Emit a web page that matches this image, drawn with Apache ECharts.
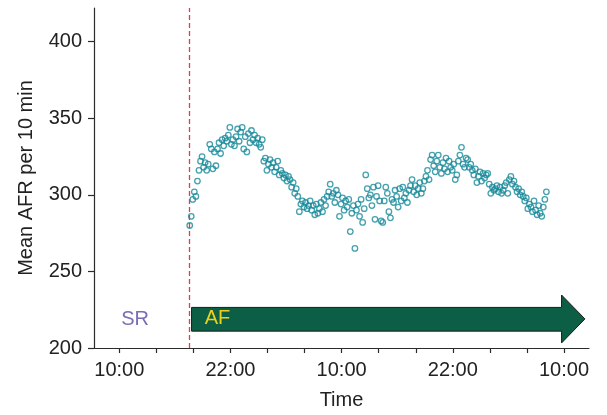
<!DOCTYPE html>
<html>
<head>
<meta charset="utf-8">
<script src="https://cdn.jsdelivr.net/npm/echarts@6/dist/echarts.min.js"></script>
<style>html,body{margin:0;padding:0;background:#fff}#c{width:607px;height:415px}</style>
</head>
<body>
<div id="c"></div>
<script>
// ---- data ----
// 10-minute mean AFR values, starting at hour 17.6 (hours counted from midnight of day 1)
const startHour = 17.6;
const stepHours = 10 / 60;
const afrValues = [
  280, 286, 297, 302, 299, 309,
  316, 322, 325, 318, 321, 316,
  320, 333, 330, 317, 328, 319,
  330, 334, 327, 336, 332, 337,
  335, 339, 344, 333, 336, 332,
  338, 343, 335, 341, 344, 330,
  338, 328, 340, 334, 342, 336,
  339, 334, 337, 333, 331, 336,
  322, 324, 316, 320, 323, 318,
  321, 315, 318, 322, 313, 316,
  314, 311, 313, 309, 312, 310,
  305, 308, 301, 304, 299, 289,
  294, 296, 292, 295, 291, 293,
  296, 290, 293, 287, 294, 288,
  291, 295, 289, 297, 293, 299,
  302, 307, 299, 301, 295, 303,
  300, 286, 294, 298, 290, 296,
  292, 297, 276, 288, 293, 265,
  290, 294, 286, 297, 282, 291,
  313, 304, 298, 300, 293, 305,
  284, 299, 306, 296, 283, 282,
  296, 305, 301, 289, 285, 297,
  295, 303, 299, 292, 304, 296,
  305, 298, 301, 295, 303, 306,
  310, 302, 306, 300, 304, 308,
  301, 304, 309, 312, 316, 310,
  323, 326, 319, 315, 322, 326,
  318, 314, 321, 317, 324, 315,
  322, 318, 316, 320, 310, 313,
  322, 326, 331, 320, 318, 324,
  323, 318, 320, 316, 313, 317,
  308, 312, 315, 309, 314, 311,
  313, 314, 307, 301, 305, 303,
  304, 306, 302, 305, 301, 303,
  306, 308, 301, 310, 312, 307,
  309, 305, 302, 304, 300, 302,
  299, 296, 298, 291, 294, 292,
  289, 296, 290, 287, 293, 288,
  286, 292, 297, 302
];
const xTickHours = [10, 14, 18, 22, 26, 30, 34, 38, 42, 46, 50, 54, 58];
const xLabelHours = [10, 22, 34, 46, 58];
const yTicks = [200, 250, 300, 350, 400];
const onsetHour = 17.55;          // SR -> AF transition (dashed line)
const afArrow = { start: 17.8, headStart: 57.74, tip: 60.26, low: 211, high: 226.5, headLow: 203.3, headHigh: 234.6, mid: 219 };
const rhythmLabels = [
  { text: 'SR', hour: 11.7, value: 218.5 },
  { text: 'AF', hour: 20.6, value: 219 }
];

// ---- chart ----
const points = afrValues.map((v, i) => [startHour + i * stepHours, v]);
const font = 'Liberation Sans, Arial, Helvetica, sans-serif';
const axisColor = '#2b2b2b';

const chart = echarts.init(document.getElementById('c'), null, { renderer: 'canvas' });
chart.setOption({
  animation: false,
  grid: { left: 94, right: 18, top: 8, bottom: 60.5, containLabel: false },
  xAxis: {
    type: 'value', min: 7.27, max: 60.7,
    name: 'Time', nameLocation: 'middle', nameGap: 42,
    nameTextStyle: { fontFamily: font, fontSize: 20, color: '#222' },
    axisLine: { show: true, lineStyle: { color: axisColor, width: 1.2 } },
    axisTick: { show: true, length: 5, lineStyle: { color: axisColor, width: 1.2 }, customValues: xTickHours },
    axisLabel: {
      customValues: xLabelHours, margin: 12, fontFamily: font, fontSize: 20, color: '#222',
      formatter: v => String(Math.round(v) % 24).padStart(2, '0') + ':00'
    },
    splitLine: { show: false }
  },
  yAxis: {
    type: 'value', min: 200, max: 422,
    name: 'Mean AFR per 10 min', nameLocation: 'middle', nameGap: 58,
    nameTextStyle: { fontFamily: font, fontSize: 20, color: '#222' },
    axisLine: { show: true, lineStyle: { color: axisColor, width: 1.2 } },
    axisTick: { show: true, length: 6, lineStyle: { color: axisColor, width: 1.2 }, customValues: yTicks },
    axisLabel: { customValues: yTicks, margin: 12, fontFamily: font, fontSize: 20, color: '#222' },
    splitLine: { show: false }
  },
  series: [
    {
      type: 'custom',
      z: 1,
      data: [[afArrow.start, afArrow.low]],
      renderItem: (params, api) => {
        const a = afArrow;
        const pts = [
          [a.start, a.low], [a.headStart, a.low], [a.headStart, a.headLow], [a.tip, a.mid],
          [a.headStart, a.headHigh], [a.headStart, a.high], [a.start, a.high]
        ].map(p => api.coord(p));
        return {
          type: 'polygon',
          shape: { points: pts },
          style: { fill: '#0c5f45', stroke: '#1c1c1c', lineWidth: 1 }
        };
      },
      silent: true
    },
    {
      type: 'custom',
      z: 3,
      data: rhythmLabels.map(d => [d.hour, d.value, d.text]),
      renderItem: (params, api) => {
        const p = api.coord([api.value(0), api.value(1)]);
        const txt = rhythmLabels[params.dataIndex].text;
        return {
          type: 'text',
          x: p[0], y: p[1],
          style: {
            text: txt, fontFamily: font, fontSize: 20,
            fill: txt === 'SR' ? '#7c6cb6' : '#ecd01c',
            align: 'center', verticalAlign: 'middle'
          }
        };
      },
      silent: true
    },
    {
      type: 'scatter',
      z: 2,
      data: points,
      symbol: 'circle',
      symbolSize: 5.5,
      itemStyle: { color: 'rgba(0,0,0,0)', borderColor: '#18899a', borderWidth: 1.3 },
      markLine: {
        silent: true, symbol: 'none', animation: false,
        label: { show: false },
        lineStyle: { color: '#e8384f', type: [5, 3], width: 1.3 },
        data: [{ xAxis: onsetHour }]
      }
    }
  ]
});
</script>
</body>
</html>
